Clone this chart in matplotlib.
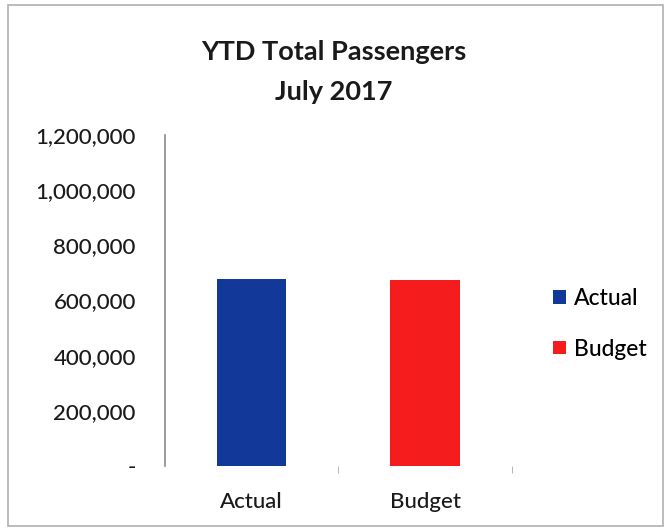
import matplotlib.pyplot as plt
from matplotlib.patches import Rectangle
from matplotlib.ticker import FuncFormatter

categories = ["Actual", "Budget"]
values = [676000, 675000]
colors = ["#12389a", "#f41c1c"]
yticks = [0, 200000, 400000, 600000, 800000, 1000000, 1200000]

plt.rcParams['font.family'] = ['Lato', 'DejaVu Sans']

fig = plt.figure(figsize=(6.68, 5.29), dpi=100)
ax = fig.add_axes([0.247, 0.119, 0.519, 0.626])

bars = ax.bar(range(len(categories)), values, width=0.4, color=colors, label=categories)

ax.set_xlim(-0.5, 1.5)
ax.set_ylim(0, 1200000)
ax.set_yticks(yticks)
ax.yaxis.set_major_formatter(FuncFormatter(lambda v, p: "-" if v == 0 else f"{int(v):,}"))
ax.set_xticks(range(len(categories)))
ax.set_xticklabels(categories)
ax.set_xticks([0.5, 1.5], minor=True)

for s in ["top", "right", "bottom"]:
    ax.spines[s].set_visible(False)
ax.spines["left"].set_color("#8a8a8a")
ax.spines["left"].set_linewidth(1.2)

ax.tick_params(axis="y", length=0, pad=21, labelsize=16, labelcolor="#1a1a1a")
ax.tick_params(axis="x", which="major", length=0, pad=19, labelsize=16, labelcolor="#1a1a1a")
ax.tick_params(axis="x", which="minor", length=5, color="#aaaaaa", direction="out")
for lbl in ax.get_yticklabels() + ax.get_xticklabels():
    lbl.set_fontweight("medium")

fig.text(0.5, 0.902, "YTD Total Passengers", ha="center", va="center",
         fontsize=19.5, fontweight="bold", color="#1a1a1a")
fig.text(0.5, 0.826, "July 2017", ha="center", va="center",
         fontsize=19.5, fontweight="bold", color="#1a1a1a")

leg = ax.legend(handles=bars, labels=categories, loc="center left", bbox_to_anchor=(1.06, 0.43),
                frameon=False, prop={"size": 16.5, "weight": "medium"}, handlelength=0.55,
                handleheight=0.55, handletextpad=0.35, labelspacing=1.3)

fig.patches.append(Rectangle((0.012, 0.005), 0.98, 0.985, transform=fig.transFigure,
                             fill=False, edgecolor="#b0b0b0", linewidth=1.2))

fig.savefig("out.png", dpi=100)
